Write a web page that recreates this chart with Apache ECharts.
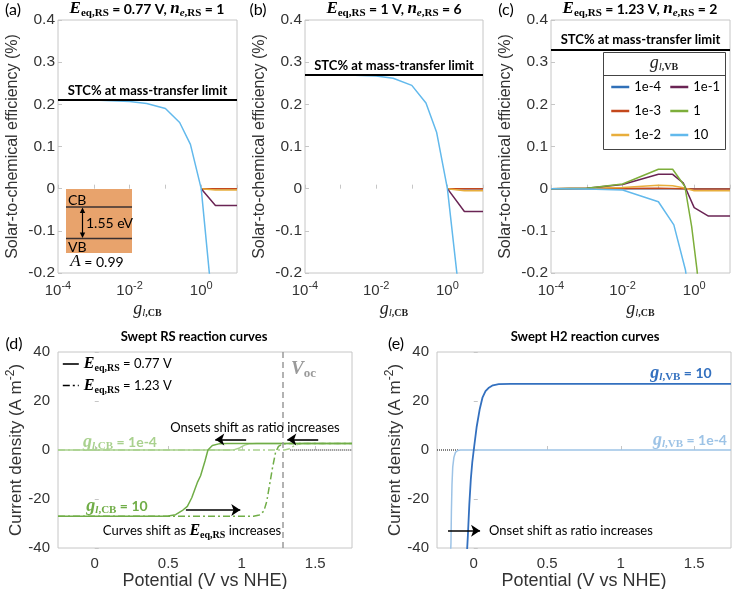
<!DOCTYPE html>
<html><head><meta charset="utf-8">
<script src="https://cdn.jsdelivr.net/npm/echarts@6/dist/echarts.min.js"></script>
<style>html,body{margin:0;padding:0;background:#fff}#c{width:733px;height:589px}</style>
</head><body><div id="c"></div>
<script>
// ---------------- DATA ----------------
const VB_NAMES = ['1e-4', '1e-3', '1e-2', '1e-1', '1', '10'];
const STC_LIMIT = [0.21, 0.27, 0.333];           // panels a, b, c
const LOG_TICK_EXP = [-4, -2, 0];                 // labelled decades

// panel (a)  E=0.77 V, n=1
const A_X_LO = [1e-4, 1e-3, 1e-2, 0.03, 0.1, 0.25, 0.5, 1, 2.5];
const A_VB10 = [0.21, 0.21, 0.207, 0.202, 0.19, 0.157, 0.105, 0, -0.35];
const A_X_HI = [1, 2.5, 10];
const A_VB1e1 = [0, -0.04, -0.04];
const A_VB1e2 = [0, -0.003, -0.003];
const A_VB1e3 = [0, 0, 0];
const A_VB1e4 = [0, 0, 0];

// panel (b)  E=1 V, n=6
const B_X_LO = [1e-4, 1e-3, 1e-2, 0.03, 0.1, 0.25, 0.5, 1, 2.5];
const B_VB10 = [0.27, 0.27, 0.267, 0.262, 0.245, 0.203, 0.133, 0, -0.3];
const B_X_HI = [1, 3, 10];
const B_VB1e1 = [0, -0.054, -0.054];
const B_VB1e2 = [0, -0.005, -0.005];
const B_VB1e3 = [0, 0, 0];
const B_VB1e4 = [0, 0, 0];

// panel (c)  E=1.23 V, n=2
const C_X_1e4 = [1e-4, 10];            const C_VB1e4 = [0, 0];
const C_X_1e3 = [1e-4, 0.1, 1, 10];    const C_VB1e3 = [0, 0.001, -0.001, -0.001];
const C_X_1e2 = [1e-4, 1e-3, 1e-2, 0.1, 0.25, 0.5, 1, 10];
const C_VB1e2 = [0, 0.001, 0.003, 0.008, 0.007, 0.002, -0.005, -0.005];
const C_X_1e1 = [1e-4, 1e-3, 1e-2, 0.1, 0.25, 0.5, 1, 2.5, 10];
const C_VB1e1 = [0, 0.001, 0.01, 0.034, 0.034, 0.013, -0.045, -0.065, -0.065];
const C_X_1 = [1e-4, 1e-3, 1e-2, 0.1, 0.25, 0.55, 0.85, 1.2, 1.5];
const C_VB1 = [0, 0.001, 0.011, 0.046, 0.046, 0.005, -0.09, -0.193, -0.3];
const C_X_10 = [1e-4, 1e-3, 1e-2, 0.1, 0.27, 0.57, 1];
const C_VB10 = [0, -0.0005, -0.003, -0.031, -0.086, -0.193, -0.35];

// panel (d) swept RS reaction curves
const POT_TICKS = [0, 0.5, 1, 1.5];
const J_TICKS_MIN = -40;
const D_LO077_X = [-0.25, 0.92, 0.95, 0.98, 1.0, 1.02, 1.05, 1.1, 1.75];
const D_LO077_Y = [0, 0, 0.15, 0.7, 1.4, 2.0, 2.5, 2.7, 2.7];
const D_HI077_X = [-0.25, 0.45, 0.5, 0.55, 0.6, 0.63, 0.66, 0.7, 0.72, 0.75, 0.77, 0.8, 0.85, 0.9, 1.75];
const D_HI077_Y = [-27, -27, -26.9, -26.4, -24.5, -23, -19.5, -13, -10.5, -4.5, 0, 1.8, 2.6, 2.7, 2.7];
const D_LO123_X = [-0.25, 1.29, 1.32, 1.35, 1.38, 1.42, 1.75];
const D_LO123_Y = [0, 0, 0.4, 1.5, 2.3, 2.7, 2.7];
const D_HI123_X = [-0.25, 1.08, 1.12, 1.15, 1.17, 1.19, 1.21, 1.23, 1.25, 1.28, 1.32, 1.75];
const D_HI123_Y = [-27, -27, -26.5, -25, -21, -14, -7, -1, 1.5, 2.5, 2.7, 2.7];
const D_ZERO_X = [1.33, 1.75];  const D_ZERO_Y = [0, 0];
const VOC = 1.285;
const D_ARROWS = [[[1.03, 4.3], [0.82, 4.3]], [[1.52, 4.3], [1.31, 4.3]], [[0.62, -24.5], [0.99, -24.5]]];

// panel (e) swept H2 reaction curves
const E_HI_X = [-0.05, -0.04, -0.03, -0.02, -0.01, 0, 0.02, 0.04, 0.06, 0.08, 0.1, 0.13, 0.17, 0.25, 1.75];
const E_HI_Y = [-46, -35, -22, -12, -5, 0, 9.5, 16.5, 21.5, 24, 25.3, 26.4, 26.9, 27, 27];
const E_LO_X = [-0.16, -0.155, -0.152, -0.148, -0.143, -0.135, -0.125, -0.11, -0.09, 1.75];
const E_LO_Y = [-46, -38, -25, -14, -7, -3, -1, -0.2, 0, 0];
const E_ZERO_X = [-0.25, -0.1]; const E_ZERO_Y = [0, 0];
const E_ARROWS = [[[-0.175, -33], [0.043, -33]]];

// ---------------- STYLE ----------------
const SANS = 'Liberation Sans', CAL = 'Lato', SERIF = 'Liberation Serif';
const AX = '#c6c6c6', TXT = '#333';
const VB_COLORS = ['#3070B8', '#C4481C', '#E8AE3C', '#6A2454', '#7DAE3A', '#62B9EC'];
const GREEN = '#70AD47', LGREEN = '#A9D18E', DBLUE = '#3370BF', LBLUE = '#9DC3E6';

const zip = (xs, ys) => xs.map((x, i) => [x, ys[i]]);

function mrich(color, base) {
  return {
    it: {fontFamily: SERIF, fontStyle: 'italic', fontWeight: 'bold', fontSize: base + 3, color},
    itn: {fontFamily: SERIF, fontStyle: 'italic', fontSize: base + 3, color},
    g: {fontFamily: SERIF, fontStyle: 'italic', fontWeight: 'bold', fontSize: base + 4, color},
    iti: {fontFamily: SERIF, fontStyle: 'italic', fontWeight: 'bold', fontSize: base - 3, color, padding: [9, 0, 0, 0]},
    sub: {fontFamily: SERIF, fontWeight: 'bold', fontSize: base - 3, color, padding: [9, 0, 0, 0]},
    b: {fontFamily: CAL, fontWeight: 'bold', fontSize: base, color},
    r: {fontFamily: CAL, fontSize: base, color}
  };
}
const gRich = {
  g: {fontFamily: SERIF, fontStyle: 'italic', fontSize: 18, color: '#222'},
  si: {fontFamily: SERIF, fontStyle: 'italic', fontSize: 11, color: '#222', padding: [9, 0, 0, 0]},
  s: {fontFamily: SERIF, fontWeight: 'bold', fontSize: 10, color: '#222', padding: [9, 0, 0, 0]}
};

function T(text, x, y, opt) {
  opt = opt || {};
  return {
    text, left: x, top: y, padding: 0, textAlign: opt.align || 'center', textVerticalAlign: 'middle',
    textStyle: {fontFamily: CAL, fontSize: opt.size || 13, fontWeight: opt.weight || 'normal', color: opt.color || '#000', rich: opt.rich || {}}
  };
}

function grid(l, t, w, h) {
  return {left: l, top: t, width: w, height: h, show: true, borderColor: AX, borderWidth: 1, backgroundColor: 'transparent', outerBoundsMode: 'none', containLabel: false};
}

function logX(i) {
  return {
    type: 'log', gridIndex: i, min: 1e-4, max: 10, logBase: 10,
    axisLine: {show: false}, splitLine: {show: false},
    axisTick: {inside: true, length: 4, lineStyle: {color: AX}},
    axisLabel: {
      interval: 0, margin: 7, fontFamily: SANS, fontSize: 15, color: TXT,
      formatter: v => { const e = Math.round(Math.log10(v)); return LOG_TICK_EXP.includes(e) ? '10{sup|' + e + '}' : ''; },
      rich: {sup: {fontFamily: SANS, fontSize: 11, color: TXT, padding: [0, 0, 11, 0]}}
    },
    name: '{g|g}{si|l}{s|,CB}', nameLocation: 'middle', nameGap: 26,
    nameTextStyle: {rich: gRich}
  };
}
function effY(i) {
  return {
    type: 'value', gridIndex: i, min: -0.2, max: 0.4, interval: 0.1,
    axisLine: {show: false}, splitLine: {show: false},
    axisTick: {inside: true, length: 4, lineStyle: {color: AX}},
    axisLabel: {margin: 3, fontFamily: SANS, fontSize: 15.5, color: TXT, formatter: v => String(Math.round(v * 10) / 10)},
    name: 'Solar-to-chemical efficiency (%)', nameLocation: 'middle', nameGap: 37,
    nameTextStyle: {fontFamily: SANS, fontSize: 16, color: TXT}
  };
}
function potX(i) {
  return {
    type: 'value', gridIndex: i, min: -0.25, max: 1.75,
    axisLine: {show: false}, splitLine: {show: false},
    axisTick: {inside: true, length: 4, lineStyle: {color: AX}, customValues: POT_TICKS},
    axisLabel: {customValues: POT_TICKS, margin: 8, fontFamily: SANS, fontSize: 15, color: TXT, formatter: v => String(v)},
    name: 'Potential (V vs NHE)', nameLocation: 'middle', nameGap: 21,
    nameTextStyle: {fontFamily: SANS, fontSize: 18, color: TXT}
  };
}
function curY(i, gap) {
  return {
    type: 'value', gridIndex: i, min: J_TICKS_MIN, max: 40, interval: 20,
    axisLine: {show: false}, splitLine: {show: false},
    axisTick: {inside: true, length: 4, lineStyle: {color: AX}},
    axisLabel: {margin: 8, fontFamily: SANS, fontSize: 15, color: TXT},
    name: 'Current density (A m{sup|-2})', nameLocation: 'middle', nameGap: gap,
    nameTextStyle: {fontFamily: SANS, fontSize: 17, color: TXT, rich: {sup: {fontFamily: SANS, fontSize: 12, color: TXT, padding: [0, 0, 10, 0]}}}
  };
}

function line(name, i, xs, ys, color, width, type) {
  return {
    name, type: 'line', xAxisIndex: i, yAxisIndex: i, data: zip(xs, ys), symbol: 'none', color,
    lineStyle: {color, width: width || 1.5, type: type || 'solid'}, itemStyle: {color}, silent: true, z: 2
  };
}
function stc(i, val) {
  return {
    type: 'line', xAxisIndex: i, yAxisIndex: i, data: [], silent: true, z: 3,
    markLine: {
      silent: true, symbol: 'none', animation: false, data: [{yAxis: val}],
      lineStyle: {color: '#000', width: 2, type: 'solid'},
      label: {show: true, position: 'insideMiddleTop', distance: 3, formatter: 'STC% at mass-transfer limit',
        fontFamily: CAL, fontWeight: 'bold', fontSize: 13, color: '#000'}
    }
  };
}
function arrows(i, list) {
  return {
    type: 'line', xAxisIndex: i, yAxisIndex: i, data: [], silent: true, z: 4,
    markLine: {
      silent: true, animation: false, symbol: ['none', 'arrow'], symbolSize: 9,
      data: list.map(a => [{coord: a[0]}, {coord: a[1]}]),
      lineStyle: {color: '#000', width: 1.6, type: 'solid'}, label: {show: false}
    }
  };
}

const DASHDOT = [7, 3, 2, 3];

const series = [
  // (a)
  line('1e-4', 0, A_X_HI, A_VB1e4, VB_COLORS[0]),
  line('1e-3', 0, A_X_HI, A_VB1e3, VB_COLORS[1]),
  line('1e-2', 0, A_X_HI, A_VB1e2, VB_COLORS[2]),
  line('1e-1', 0, A_X_HI, A_VB1e1, VB_COLORS[3]),
  line('10', 0, A_X_LO, A_VB10, VB_COLORS[5]),
  stc(0, STC_LIMIT[0]),
  // (b)
  line('1e-4', 1, B_X_HI, B_VB1e4, VB_COLORS[0]),
  line('1e-3', 1, B_X_HI, B_VB1e3, VB_COLORS[1]),
  line('1e-2', 1, B_X_HI, B_VB1e2, VB_COLORS[2]),
  line('1e-1', 1, B_X_HI, B_VB1e1, VB_COLORS[3]),
  line('10', 1, B_X_LO, B_VB10, VB_COLORS[5]),
  stc(1, STC_LIMIT[1]),
  // (c)
  line('1e-4', 2, C_X_1e4, C_VB1e4, VB_COLORS[0]),
  line('1e-3', 2, C_X_1e3, C_VB1e3, VB_COLORS[1]),
  line('1e-2', 2, C_X_1e2, C_VB1e2, VB_COLORS[2]),
  line('1e-1', 2, C_X_1e1, C_VB1e1, VB_COLORS[3]),
  line('1', 2, C_X_1, C_VB1, VB_COLORS[4]),
  line('10', 2, C_X_10, C_VB10, VB_COLORS[5]),
  stc(2, STC_LIMIT[2]),
  // (d)
  line('dz', 3, D_ZERO_X, D_ZERO_Y, '#000', 1, 'dotted'),
  line('d1', 3, D_LO077_X, D_LO077_Y, LGREEN, 1.5),
  line('d2', 3, D_LO123_X, D_LO123_Y, LGREEN, 1.5, DASHDOT),
  line('d3', 3, D_HI077_X, D_HI077_Y, GREEN, 1.5),
  line('d4', 3, D_HI123_X, D_HI123_Y, GREEN, 1.5, DASHDOT),
  line('E077', 3, [], [], '#000', 1.6),
  line('E123', 3, [], [], '#000', 1.6, DASHDOT),
  {
    type: 'line', xAxisIndex: 3, yAxisIndex: 3, data: [], silent: true, z: 1,
    markLine: {silent: true, animation: false, symbol: 'none', data: [{xAxis: VOC}],
      lineStyle: {color: '#9a9a9a', width: 1.5, type: [6, 4]}, label: {show: false}}
  },
  arrows(3, D_ARROWS),
  // (e)
  line('ez', 4, E_ZERO_X, E_ZERO_Y, '#000', 1, 'dotted'),
  line('e1', 4, E_LO_X, E_LO_Y, LBLUE, 1.5),
  line('e2', 4, E_HI_X, E_HI_Y, DBLUE, 1.8),
  arrows(4, E_ARROWS)
];

const R = mrich('#000', 14);
const titles = [
  T('(a)', 13, 10, {size: 16}),
  T('(b)', 258, 10, {size: 16}),
  T('(c)', 506, 10, {size: 16}),
  T('{it|E}{sub|eq,RS}{b| = 0.77 V, }{it|n}{iti|e}{sub|,RS}{b| = 1}', 147, 9, {rich: R}),
  T('{it|E}{sub|eq,RS}{b| = 1 V, }{it|n}{iti|e}{sub|,RS}{b| = 6}', 394, 9, {rich: R}),
  T('{it|E}{sub|eq,RS}{b| = 1.23 V, }{it|n}{iti|e}{sub|,RS}{b| = 2}', 640, 9, {rich: R}),
  // inset (a)
  T('CB', 68, 200, {align: 'left', size: 14}),
  T('VB', 68, 247, {align: 'left', size: 14}),
  T('1.55 eV', 86, 223, {align: 'left', size: 14}),
  T('{itn|A}{r| = 0.99}', 97, 262, {rich: mrich('#000', 14)}),
  // legend title (c)
  T('{g|g}{si|l}{s|,VB}', 664, 63, {rich: gRich}),
  // (d)
  T('(d)', 14, 344, {size: 16}),
  T('Swept RS reaction curves', 194, 337, {weight: 'bold'}),
  T('{g|g}{iti|l}{sub|,CB}{b| = 1e-4}', 120, 442, {rich: mrich(LGREEN, 14)}),
  T('{g|g}{iti|l}{sub|,CB}{b| = 10}', 117, 506, {rich: mrich(GREEN, 14)}),
  T('Onsets shift as ratio increases', 255, 428, {size: 13}),
  T('{r|Curves shift as }{it|E}{sub|eq,RS}{r| increases}', 192, 531, {rich: mrich('#000', 13)}),
  T('{it|V}{sub|oc}', 291, 369, {align: 'left', rich: mrich('#9a9a9a', 16)}),
  // (e)
  T('(e)', 396, 344, {size: 16}),
  T('Swept H2 reaction curves', 585, 337, {weight: 'bold'}),
  T('{g|g}{iti|l}{sub|,VB}{b| = 10}', 681, 373, {rich: mrich(DBLUE, 14)}),
  T('{g|g}{iti|l}{sub|,VB}{b| = 1e-4}', 690, 440, {rich: mrich(LBLUE, 14)}),
  T('Onset shift as ratio increases', 489, 531, {align: 'left', size: 13})
];

const option = {
  animation: false,
  backgroundColor: '#fff',
  title: titles,
  grid: [grid(58, 20, 179, 253), grid(305, 20, 178, 253), grid(551, 20, 179, 253), grid(58, 352, 294, 196), grid(437, 352, 294, 196)],
  xAxis: [logX(0), logX(1), logX(2), potX(3), potX(4)],
  yAxis: [effY(0), effY(1), effY(2), curY(3, 29), curY(4, 26)],
  legend: [
    {
      data: VB_NAMES, left: 610, top: 79, orient: 'vertical', height: 66, itemGap: 8, itemWidth: 18, itemHeight: 16,
      padding: 0, selectedMode: false, itemStyle: {opacity: 0}, lineStyle: {width: 2.5},
      textStyle: {fontFamily: CAL, fontSize: 13, color: '#000', lineHeight: 16}, z: 5
    },
    {
      data: ['E077', 'E123'], left: 62, top: 356, orient: 'vertical', itemGap: 4, itemWidth: 16, itemHeight: 16,
      padding: 0, selectedMode: false, itemStyle: {opacity: 0}, lineStyle: {width: 1.6},
      formatter: n => n === 'E077' ? '{it|E}{sub|eq,RS}{r| = 0.77 V}' : '{it|E}{sub|eq,RS}{r| = 1.23 V}',
      textStyle: {fontFamily: CAL, fontSize: 13, color: '#000', lineHeight: 16, rich: mrich('#000', 13)}
    }
  ],
  graphic: [
    {type: 'rect', z: 3, shape: {x: 66, y: 189, width: 66, height: 64}, style: {fill: '#E8A36C'}},
    {type: 'line', z: 4, shape: {x1: 66, y1: 207, x2: 132, y2: 207}, style: {stroke: '#3a3030', lineWidth: 1.5}},
    {type: 'line', z: 4, shape: {x1: 66, y1: 238.5, x2: 132, y2: 238.5}, style: {stroke: '#3a3030', lineWidth: 1.5}},
    {type: 'line', z: 4, shape: {x1: 82.5, y1: 211, x2: 82.5, y2: 235}, style: {stroke: '#000', lineWidth: 1.2}},
    {type: 'polygon', z: 4, shape: {points: [[82.5, 207.5], [79.8, 213], [85.2, 213]]}, style: {fill: '#000'}},
    {type: 'polygon', z: 4, shape: {points: [[82.5, 238], [79.8, 232.5], [85.2, 232.5]]}, style: {fill: '#000'}},
    {type: 'rect', z: 3, shape: {x: 603.5, y: 52.5, width: 122, height: 97}, style: {fill: '#fff', stroke: '#444', lineWidth: 1}},
    {type: 'line', z: 3, shape: {x1: 603.5, y1: 75.5, x2: 725.5, y2: 75.5}, style: {stroke: '#444', lineWidth: 1}}
  ],
  series
};

const chart = echarts.init(document.getElementById('c'), null, {renderer: 'canvas'});
chart.setOption(option);
</script></body></html>
